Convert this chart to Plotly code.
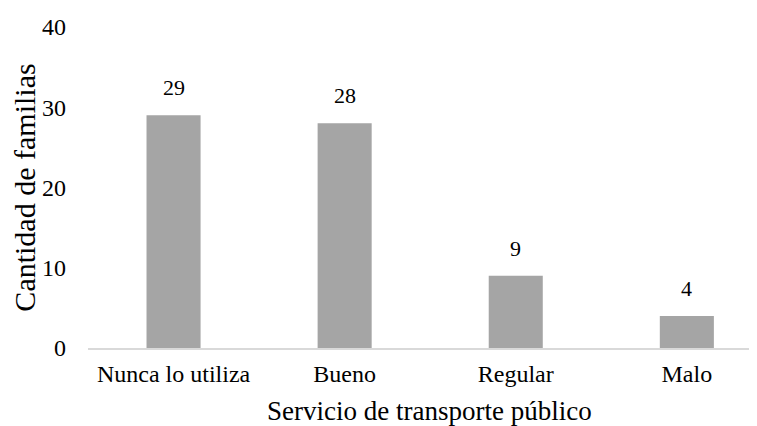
import plotly.graph_objects as go

categories = ["Nunca lo utiliza", "Bueno", "Regular", "Malo"]
values = [29, 28, 9, 4]
y_ticks = [0, 10, 20, 30, 40]
x_title = "Servicio de transporte público"
y_title = "Cantidad de familias"

FONT = "Times New Roman"

fig = go.Figure(go.Bar(
    x=categories, y=values,
    marker=dict(color="#A5A5A5", line=dict(width=0)),
    width=0.316,
))

for c, v in zip(categories, values):
    fig.add_annotation(x=c, y=v, text=str(v), showarrow=False,
                       yanchor="bottom", yshift=13,
                       font=dict(family=FONT, size=22, color="#000000"))

fig.add_annotation(xref="paper", yref="paper", x=0.5, y=0,
                   xanchor="center", yanchor="top", xshift=7, yshift=-46,
                   text=x_title, showarrow=False,
                   font=dict(family=FONT, size=27, color="#000000"))

fig.update_layout(
    width=749, height=418,
    margin=dict(l=80, r=0, t=19, b=78),
    paper_bgcolor="white", plot_bgcolor="white",
    font=dict(family=FONT, size=24, color="#000000"),
    showlegend=False,
    xaxis=dict(
        range=[-0.5, 3.41],
        showline=True, linecolor="#D9D9D9", linewidth=1.5,
        showgrid=False, zeroline=False,
        ticks="", ticklabelstandoff=3,
        tickfont=dict(family=FONT, size=24),
    ),
    yaxis=dict(
        range=[0, 40], tickvals=y_ticks,
        showline=False, showgrid=False, zeroline=False,
        ticks="", ticklabelstandoff=21,
        title=dict(text=y_title, standoff=4,
                   font=dict(family=FONT, size=30)),
        tickfont=dict(family=FONT, size=24),
    ),
)

fig.write_html("out.html")
